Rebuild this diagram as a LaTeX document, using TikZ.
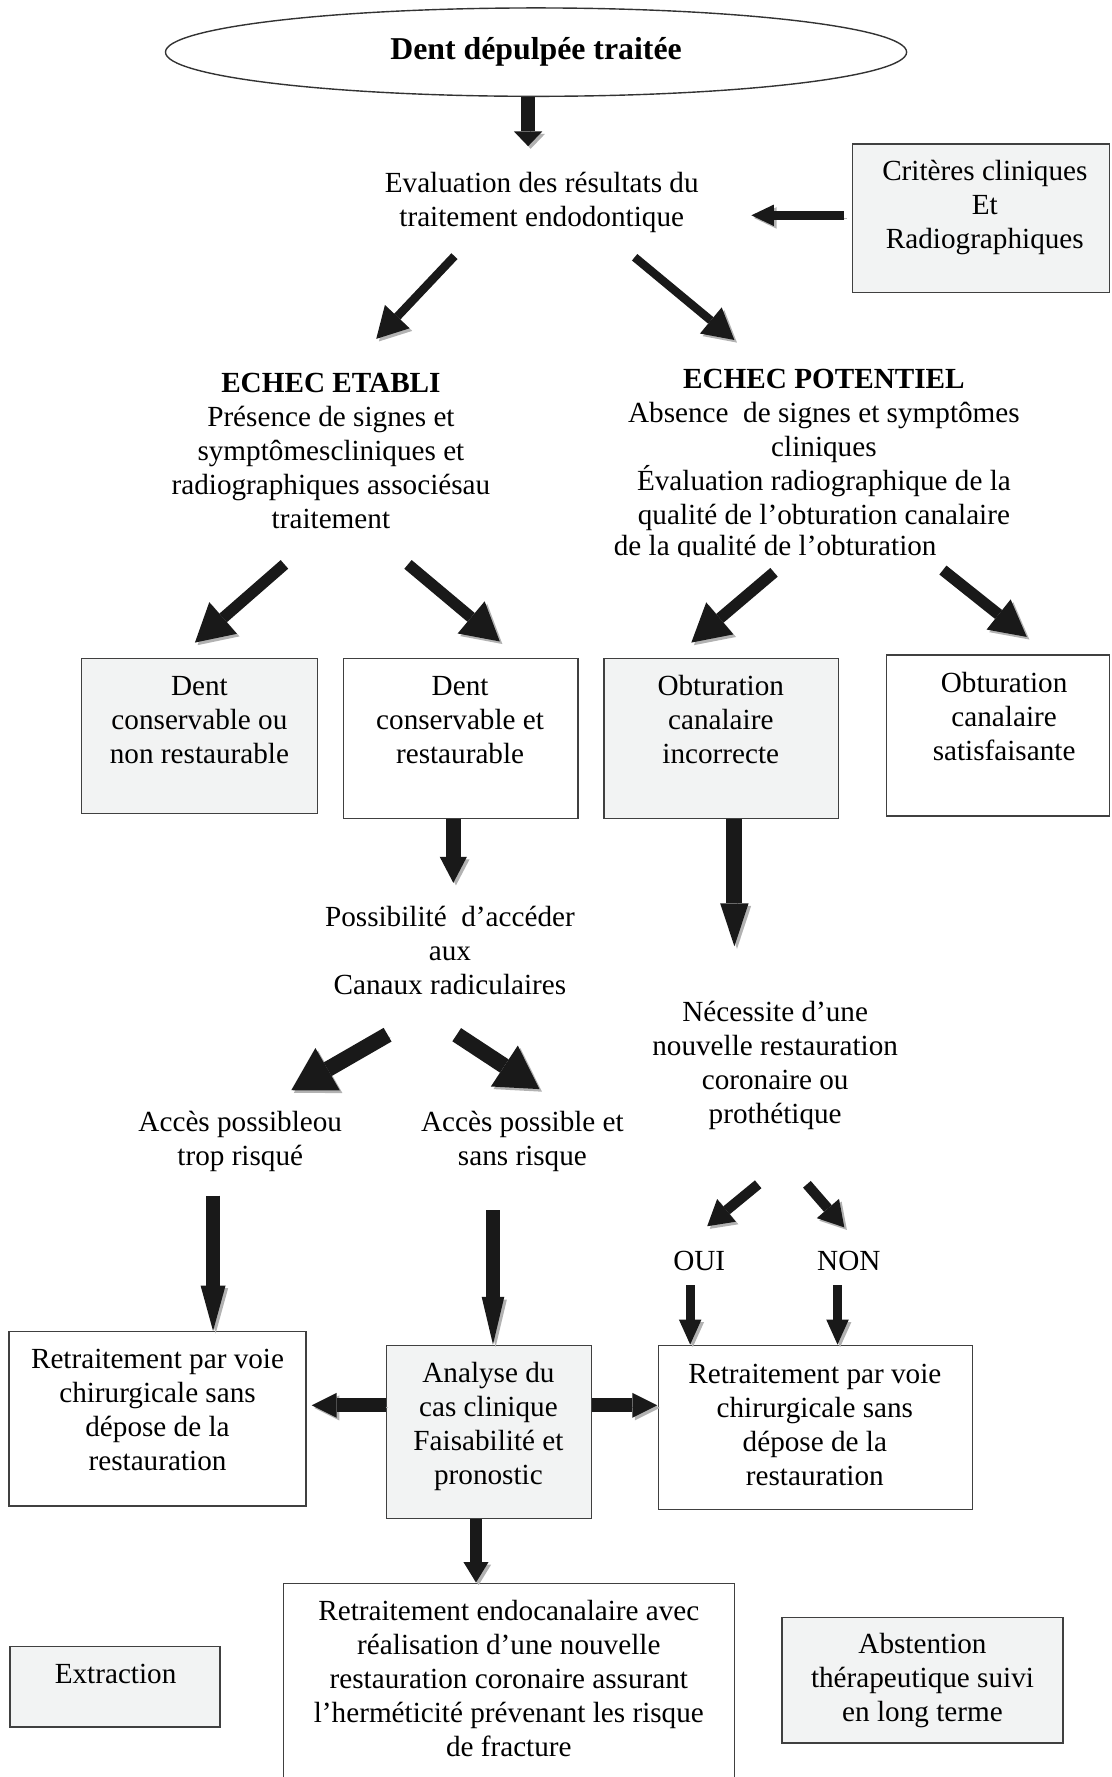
\documentclass[tikz,border=0pt]{standalone}
\usepackage{fontspec}
\setmainfont{Liberation Serif}
\usepackage{tikz}
\usetikzlibrary{arrows.meta}
\usetikzlibrary{shapes}
\usetikzlibrary{fit}
\definecolor{grisclair}{RGB}{242,243,243}
\tikzset{texte/.style={align=center,inner sep=0pt,font=\fontsize{14.6}{17}\selectfont},
boite/.style={draw=black!75,line width=0.7pt,fill=#1,inner sep=0pt},
boite/.default=white,
ombre/.style={preaction={draw=black!30,transform canvas={shift={(1.3pt,-1.3pt)}}}},
fleche/.style n args={3}{draw=black!90,line width=#1,-{Triangle[width=#2,length=#3,line width=0pt]},ombre}}
\begin{document}
\begin{tikzpicture}[x=0.5667pt,y=-0.5667pt]

\useasboundingbox (0,0) rectangle (981,1568);
\clip (0,0) rectangle (981,1568);

\node[draw=black!80,line width=0.7pt,ellipse,minimum width=370.6pt,minimum height=44.2pt,inner sep=0pt,font=\fontsize{15.9}{18}\selectfont\bfseries] (dent) at (473,46) {Dent dépulpée traitée};

\node[texte] (eval) at (478,179) {Evaluation des résultats du\\traitement endodontique};

\node[boite=grisclair,fit={(752,127) (979,258)}] (criteres) {};
\node[texte] (tcriteres) at (869,183) {Critères cliniques\\Et\\Radiographiques};

\node[texte] (etabli) at (292,398) {\textbf{ECHEC ETABLI}\\Présence de signes et\\symptômescliniques et\\radiographiques associésau\\traitement};
\node[texte] (potentiel) at (727,397) {\textbf{ECHEC POTENTIEL}\\Absence~ de signes et symptômes\\cliniques\\Évaluation radiographique de la\\qualité de l’obturation canalaire};
\begin{scope}
	\clip (520,466) rectangle (860,491);
	\node[texte] (potsuite) at (684,484) {de la qualité de l’obturation};
\end{scope}

% les quatre cas
\node[boite=grisclair,fit={(72,581) (280,718)}] (b1) {};
\node[texte] (t1) at (176,635) {Dent\\conservable ou\\non restaurable};
\node[boite,fit={(303,581) (510,722)}] (b2) {};
\node[texte] (t2) at (406,635) {Dent\\conservable et\\restaurable};
\node[boite=grisclair,fit={(533,581) (740,722)}] (b3) {};
\node[texte] (t3) at (636,635) {Obturation\\canalaire\\incorrecte};
\node[boite,fit={(782,578) (979,720)}] (b4) {};
\node[texte] (t4) at (886,632) {Obturation\\canalaire\\satisfaisante};

\node[texte] (poss) at (397,839) {Possibilité~ d’accéder\\aux\\Canaux radiculaires};
\node[texte] (nec) at (684,940) {Nécessite d’une\\nouvelle restauration\\coronaire ou\\prothétique};

\node[texte] (accl) at (212,1007) {Accès possibleou\\trop risqué};
\node[texte] (accr) at (461,1007) {Accès possible et\\sans risque};
\node[texte] (oui) at (617,1113) {OUI};
\node[texte] (non) at (749,1113) {NON};

\node[boite,fit={(8,1175) (270,1329)}] (b5) {};
\node[texte] (t5) at (139,1244) {Retraitement par voie\\chirurgicale sans\\dépose de la\\restauration};
\node[boite=grisclair,fit={(341,1187) (522,1340)}] (analyse) {};
\node[texte] (t6) at (431,1259) {Analyse du\\cas clinique\\Faisabilité et\\pronostic};
\node[boite,fit={(581,1187) (858,1332)}] (b7) {};
\node[texte] (t7) at (719,1257) {Retraitement par voie\\chirurgicale sans\\dépose de la\\restauration};

\node[boite,fit={(250,1397) (648,1590)}] (endo) {};
\node[texte] (t8) at (449,1481) {Retraitement endocanalaire avec\\réalisation d’une nouvelle\\restauration coronaire assurant\\l’herméticité prévenant les risque\\de fracture};
\node[boite=grisclair,fit={(9,1453) (194,1524)}] (extraction) {};
\node[texte] (t9) at (102,1477) {Extraction};
\node[boite=grisclair,fit={(690,1427) (938,1538)}] (abstention) {};
\node[texte] (t10) at (814,1483) {Abstention\\thérapeutique suivi\\en long terme};

% fleches
\coordinate (pA) at (466,129);
\coordinate (pB1) at (745,190);  \coordinate (pB2) at (663,190);
\coordinate (pC1) at (401,226);  \coordinate (pC2) at (332,299);
\coordinate (pD1) at (560,227);  \coordinate (pD2) at (648,300);
\coordinate (pE1) at (251,498);  \coordinate (pE2) at (172,567);
\coordinate (pF1) at (360,498);  \coordinate (pF2) at (441,566);
\coordinate (pG1) at (683,505);  \coordinate (pG2) at (610,567);
\coordinate (pH1) at (832,503);  \coordinate (pH2) at (906,562);
\coordinate (pI) at (400,779);
\coordinate (pJ) at (648,835);
\coordinate (pK1) at (342,913);  \coordinate (pK2) at (257,962);
\coordinate (pL1) at (403,913);  \coordinate (pL2) at (476,961);
\coordinate (pM1) at (669,1045); \coordinate (pM2) at (624,1082);
\coordinate (pN1) at (712,1045); \coordinate (pN2) at (745,1083);
\coordinate (pO) at (609,1134);
\coordinate (pP) at (739,1134);
\coordinate (pQ) at (188,1055);
\coordinate (pR) at (435,1068);
\coordinate (pS) at (275,1240);
\coordinate (pT) at (580,1240);
\coordinate (pU) at (420,1340);

\draw[fleche={7pt}{14.2pt}{7.4pt}] (dent.south -| pA) -- (pA);
\draw[fleche={4.5pt}{10.8pt}{11.3pt}] (pB1) -- (pB2);
\draw[fleche={4.2pt}{17pt}{15.3pt}] (pC1) -- (pC2);
\draw[fleche={4.2pt}{17pt}{15.3pt}] (pD1) -- (pD2);
\draw[fleche={5.7pt}{21pt}{18.7pt}] (pE1) -- (pE2);
\draw[fleche={5.7pt}{21pt}{18.7pt}] (pF1) -- (pF2);
\draw[fleche={5.7pt}{21pt}{18.7pt}] (pG1) -- (pG2);
\draw[fleche={5.7pt}{19.3pt}{18pt}] (pH1) -- (pH2);
\draw[fleche={7.4pt}{13.6pt}{13pt}] (b2.south -| pI) -- (pI);
\draw[fleche={7.9pt}{14.2pt}{21.5pt}] (b3.south -| pJ) -- (pJ);
\draw[fleche={7.9pt}{24.5pt}{21pt}] (pK1) -- (pK2);
\draw[fleche={7.9pt}{24.5pt}{21pt}] (pL1) -- (pL2);
\draw[fleche={5.1pt}{14.7pt}{12.5pt}] (pM1) -- (pM2);
\draw[fleche={5.1pt}{14.7pt}{12.5pt}] (pN1) -- (pN2);
\draw[fleche={4.5pt}{11.3pt}{12.5pt}] (pO) -- (b7.north -| pO);
\draw[fleche={4.5pt}{11.3pt}{12.5pt}] (pP) -- (b7.north -| pP);
\draw[fleche={7.4pt}{12.5pt}{22.7pt}] (pQ) -- (b5.north -| pQ);
\draw[fleche={6.8pt}{11.3pt}{23.8pt}] (pR) -- (analyse.north -| pR);
\draw[fleche={6.8pt}{12.5pt}{12.5pt}] (analyse.west |- pS) -- (pS);
\draw[fleche={6.8pt}{12.5pt}{12.5pt}] (analyse.east |- pT) -- (pT);
\draw[fleche={6.2pt}{12.5pt}{10.2pt}] (analyse.south -| pU) -- (endo.north -| pU);

\end{tikzpicture}
\end{document}
